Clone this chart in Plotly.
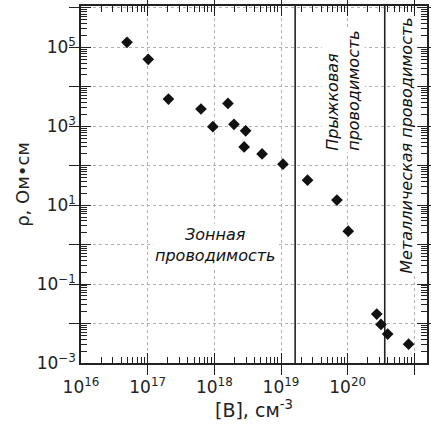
import plotly.graph_objects as go

# Data: boron concentration (cm^-3) and resistivity (Ohm*cm)
conc = [4.9e16, 1.02e17, 2.05e17, 6.3e17, 9.5e17, 1.6e18, 1.97e18, 2.95e18, 2.8e18,
        5.2e18, 1.07e19, 2.5e19, 6.9e19, 1.02e20, 2.73e20, 3.16e20, 3.98e20, 8.2e20]
rho = [1.35e5, 5.0e4, 4.9e3, 2.75e3, 980, 3.8e3, 1.12e3, 770, 300,
       200, 110, 43, 13.5, 2.2, 0.0174, 0.0095, 0.0054, 0.003]

boundaries = [1.63e19, 3.6e20]

x_tickvals = [1e16, 1e17, 1e18, 1e19, 1e20, 1e21]
x_ticktext = ["10<sup>16</sup>", "10<sup>17</sup>", "10<sup>18</sup>", "10<sup>19</sup>",
              "10<sup>20</sup>", "10<sup>21</sup>"]
y_tickvals = [1e-3, 1e-2, 1e-1, 1e0, 1e1, 1e2, 1e3, 1e4, 1e5, 1e6]
y_ticktext = ["10<sup>−3</sup>", "", "10<sup>−1</sup>", "", "10<sup>1</sup>", "",
              "10<sup>3</sup>", "", "10<sup>5</sup>", ""]

x_range = [16, 21.19]
y_range = [-3, 6.05]

FONT = "DejaVu Sans"
INK = "#222"

fig = go.Figure()

for b in boundaries:
    fig.add_trace(go.Scatter(x=[b, b], y=[10 ** y_range[0], 10 ** y_range[1]],
                             mode="lines", line=dict(color=INK, width=1.6),
                             hoverinfo="skip", showlegend=False))

fig.add_trace(go.Scatter(x=conc, y=rho, mode="markers",
                         marker=dict(symbol="diamond", size=9, color="#111",
                                     line=dict(width=0)),
                         showlegend=False))

# invisible copies so that the overlay (minor-tick) axes are drawn
fig.add_trace(go.Scatter(x=conc, y=rho, xaxis="x2", yaxis="y", mode="markers",
                         marker=dict(opacity=0), hoverinfo="skip", showlegend=False))
fig.add_trace(go.Scatter(x=conc, y=rho, xaxis="x", yaxis="y2", mode="markers",
                         marker=dict(opacity=0), hoverinfo="skip", showlegend=False))

axis_common = dict(
    type="log", showline=True, linecolor=INK, linewidth=1.5, mirror="allticks",
    ticks="inside", ticklen=10, tickwidth=1.2, tickcolor=INK,
    showgrid=True, gridcolor="#b0b0b0", griddash="dot", gridwidth=1,
    zeroline=False, tickmode="array",
    tickfont=dict(family=FONT, size=17, color=INK),
)
minor_common = dict(
    type="log", showline=True, linecolor=INK, linewidth=1.5, mirror="allticks",
    ticks="inside", ticklen=6, tickwidth=1, tickcolor=INK, dtick="D1",
    showticklabels=False, showgrid=False, zeroline=False,
)

fig.update_layout(
    xaxis=dict(**axis_common, range=x_range, tickvals=x_tickvals, ticktext=x_ticktext,
               ticklabelstandoff=8,
               title=dict(text="[B], см<sup>-3</sup>",
                          font=dict(family=FONT, size=19, color=INK), standoff=8)),
    yaxis=dict(**axis_common, range=y_range, tickvals=y_tickvals, ticktext=y_ticktext,
               title=dict(text="ρ, Ом•см", font=dict(family=FONT, size=18, color=INK),
                          standoff=2)),
    xaxis2=dict(**minor_common, range=x_range, overlaying="x", anchor="y", side="bottom"),
    yaxis2=dict(**minor_common, range=y_range, overlaying="y", anchor="x", side="left"),
)

ann_font = dict(family=FONT, size=16, color="#111")
fig.add_annotation(x=18.02, y=0.0, xref="x", yref="y", text="<i>Зонная<br>проводимость</i>",
                   showarrow=False, align="center", bgcolor="white", font=ann_font)
fig.add_annotation(x=19.93, y=3.9, xref="x", yref="y", text="<i>Прыжковая<br>проводимость</i>",
                   showarrow=False, align="left", textangle=-90, bgcolor="white", font=ann_font)
fig.add_annotation(x=20.87, y=2.5, xref="x", yref="y", text="<i>Металлическая проводимость</i>",
                   showarrow=False, textangle=-90, bgcolor="white", font=ann_font)

fig.update_layout(
    width=431, height=434,
    margin=dict(l=81, r=2, t=6, b=71),
    paper_bgcolor="white", plot_bgcolor="white",
    showlegend=False,
)

fig.write_html("out.html")
